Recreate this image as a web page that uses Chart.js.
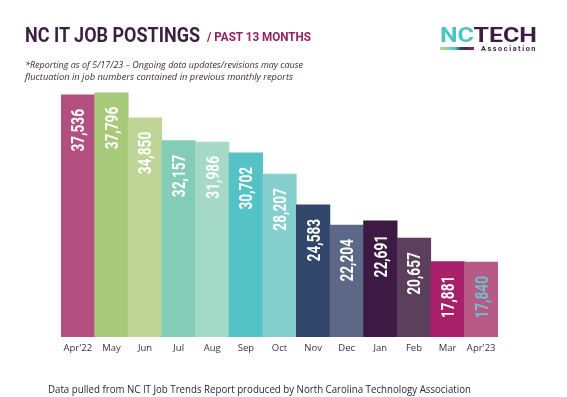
<!DOCTYPE html>
<html>
<head>
<meta charset="utf-8">
<script src="https://cdn.jsdelivr.net/npm/chart.js@4.4.0/dist/chart.umd.min.js"></script>
<style>
  html, body { margin: 0; padding: 0; background: #ffffff; }
  #wrap { position: relative; width: 567px; height: 397px; overflow: hidden; background: #fff; }
  #c { position: absolute; left: 0; top: 0; }
  .t { position: absolute; white-space: nowrap; display: inline-block; line-height: 1; }
</style>
</head>
<body>
<div id="wrap">
  <canvas id="c" width="567" height="397"></canvas>
  <span class="t" id="title" data-w="175" style="left:25px;top:23px;font:700 21px Roboto, sans-serif;color:#3b1f40;transform-origin:left top;">NC IT JOB POSTINGS</span>
  <span class="t" id="sub" data-w="104" style="left:207px;top:29px;font:700 13px Roboto, sans-serif;color:#932363;transform-origin:left top;">/ PAST 13 MONTHS</span>
  <span class="t" id="note1" data-w="278" style="left:25px;top:58px;font:italic 500 9px 'Open Sans', sans-serif;color:#3a2c3c;transform-origin:left top;">*Reporting as of 5/17/23 – Ongoing data updates/revisions may cause</span>
  <span class="t" id="note2" data-w="268" style="left:25px;top:70px;font:italic 500 9px 'Open Sans', sans-serif;color:#3a2c3c;transform-origin:left top;">fluctuation in job numbers contained in previous monthly reports</span>
  <span class="t" id="logo" data-w="97" style="left:440px;top:23px;font:700 21px Roboto, sans-serif;color:#3c1e42;transform-origin:left top;"><span style="color:#4fc3c6">NC</span>TECH</span>
  <div style="position:absolute;left:440px;top:47px;width:34px;height:3px;background:linear-gradient(to right,#c5d86d 0%,#7fcfb0 25%,#4fc3c6 45%,#34466a 60%,#4a2a55 80%,#a8206a 100%);"></div>
  <span class="t" id="assoc" data-w="56" style="left:481px;top:45px;font:700 7px Roboto, sans-serif;color:#3c1e42;letter-spacing:1.5px;transform-origin:left top;">Association</span>
  <span class="t" id="foot" data-w="423" style="left:48px;top:382px;font:400 10px 'Open Sans', sans-serif;color:#2e2436;transform-origin:left top;">Data pulled from NC IT Job Trends Report produced by North Carolina Technology Association</span>
</div>
<script>
// ---- data ----
const months = ["Apr'22", "May", "Jun", "Jul", "Aug", "Sep", "Oct", "Nov", "Dec", "Jan", "Feb", "Mar", "Apr'23"];
const postings = [37536, 37796, 34850, 32157, 31986, 30702, 28207, 24583, 22204, 22691, 20657, 17881, 17840];
const barColors = ["#b3507f", "#a9c97a", "#bfd597", "#83ccb6", "#a5d9c8", "#55c3c5", "#85cfcf",
                   "#32456a", "#5d6888", "#3d1a43", "#5c3f5c", "#a8206a", "#b85a86"];
const labelColors = ["#ffffff", "#ffffff", "#ffffff", "#ffffff", "#ffffff", "#ffffff", "#ffffff",
                     "#ffffff", "#ffffff", "#ffffff", "#ffffff", "#ffffff", "#6cc3c8"];

// fit header texts to measured widths
document.querySelectorAll('.t[data-w]').forEach(el => {
  const target = parseFloat(el.dataset.w);
  const w = el.getBoundingClientRect().width;
  if (w > 0) el.style.transform = 'scaleX(' + (target / w) + ')';
});

const valueLabels = {
  id: 'valueLabels',
  afterDatasetsDraw(chart) {
    const ctx = chart.ctx;
    const meta = chart.getDatasetMeta(0);
    const fs = 18;
    ctx.save();
    ctx.font = '700 ' + fs + 'px Roboto, sans-serif';
    ctx.textAlign = 'right';
    ctx.textBaseline = 'alphabetic';
    meta.data.forEach((bar, i) => {
      const txt = postings[i].toLocaleString('en-US');
      ctx.save();
      ctx.translate(bar.x, bar.y + 14);
      ctx.rotate(-Math.PI / 2);
      ctx.scale(0.76, 1);
      ctx.fillStyle = labelColors[i];
      ctx.fillText(txt, 0, fs * 0.711 / 2);
      ctx.restore();
    });
    ctx.restore();
  }
};

new Chart(document.getElementById('c'), {
  type: 'bar',
  data: {
    labels: months,
    datasets: [{
      data: postings,
      backgroundColor: barColors,
      borderWidth: 0,
      barPercentage: 1,
      categoryPercentage: 1
    }]
  },
  options: {
    responsive: false,
    animation: false,
    devicePixelRatio: 1,
    layout: { padding: { left: 61, right: 69, top: 91, bottom: 0 } },
    plugins: { legend: { display: false }, tooltip: { enabled: false }, title: { display: false } },
    scales: {
      y: { display: false, min: 9000, max: 38000 },
      x: {
        grid: { display: false, drawTicks: false },
        border: { display: false },
        ticks: { color: '#3b3040', font: { family: "'Open Sans', sans-serif", size: 9.5 }, padding: 6, maxRotation: 0, autoSkip: false },
        afterFit(scale) { scale.height = 60; }
      }
    }
  },
  plugins: [valueLabels]
});
</script>
</body>
</html>
